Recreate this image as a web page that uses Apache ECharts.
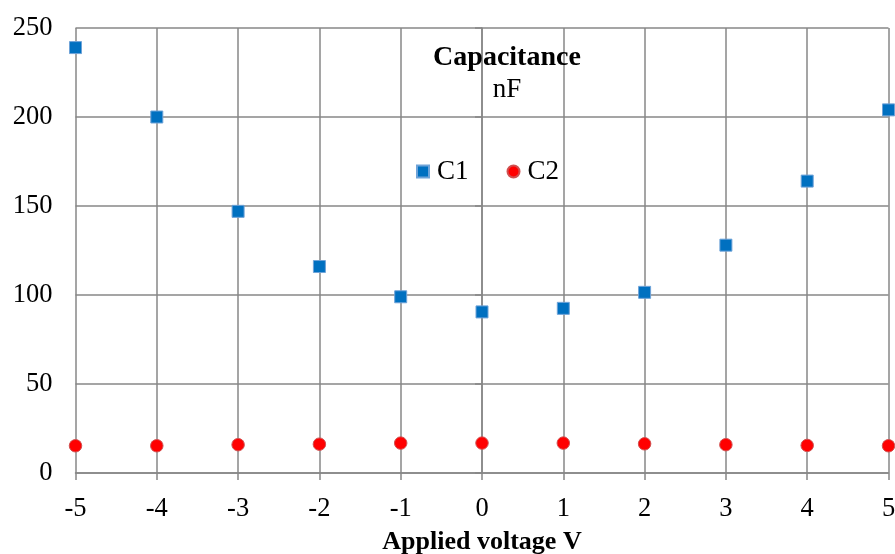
<!DOCTYPE html>
<html><head><meta charset="utf-8">
<script src="https://cdn.jsdelivr.net/npm/echarts@6/dist/echarts.min.js"></script>
<style>html,body{margin:0;padding:0;background:#fff}#c{width:895px;height:554px}</style>
</head><body><div id="c"></div>
<script>
const voltages = [-5,-4,-3,-2,-1,0,1,2,3,4,5];
const c1 = [239,200,147,116,99,90.5,92.5,101.5,128,164,204];
const c2 = [15.3,15.3,15.9,16.2,16.8,16.8,16.8,16.4,15.9,15.5,15.3];
const titleText = 'Capacitance';
const subText = 'nF';
const xName = 'Applied voltage V';
const font = '"Liberation Serif","Times New Roman",serif';
const chart = echarts.init(document.getElementById('c'));
chart.setOption({
  animation:false,
  title:{text:titleText, subtext:subText, left:507, top:44, textAlign:'center', itemGap:4, padding:0,
    textStyle:{fontFamily:font,fontSize:28,fontWeight:'bold',color:'#000'},
    subtextStyle:{fontFamily:font,fontSize:27,color:'#000'}},
  legend:{left:411, top:153, itemWidth:12, itemHeight:12, itemGap:38,
    textStyle:{fontFamily:font,fontSize:27,color:'#000',padding:[0,0,0,3]},
    data:[{name:'C1',icon:'rect'},{name:'C2',icon:'circle'}]},
  grid:{left:75.5,right:6.5,top:28,bottom:81,containLabel:false,outerBoundsMode:'none'},
  xAxis:{type:'value',min:-5,max:5,interval:1,name:xName,nameLocation:'middle',nameGap:56,
    nameTextStyle:{fontFamily:font,fontSize:26,fontWeight:'bold',color:'#000'},
    axisLine:{show:true,onZero:false,lineStyle:{color:'#878787',width:1.5}},
    axisTick:{show:true,length:7,lineStyle:{color:'#878787',width:1.5}},
    axisLabel:{fontFamily:font,fontSize:26.5,color:'#000',margin:23},
    splitLine:{show:true,lineStyle:{color:'#878787',width:1.5}}},
  yAxis:{type:'value',min:0,max:250,interval:50,
    axisLine:{show:true,lineStyle:{color:'#878787',width:1.5}},
    axisTick:{show:true,length:7,lineStyle:{color:'#878787',width:1.5}},
    axisLabel:{fontFamily:font,fontSize:26.5,color:'#000',margin:23},
    splitLine:{show:true,lineStyle:{color:'#878787',width:1.5}}},
  series:[
    {name:'C1',type:'scatter',symbol:'rect',symbolSize:12,
      itemStyle:{color:'#0070C0',borderColor:'#6fa3d8',borderWidth:1,opacity:1},
      data:voltages.map((v,i)=>[v,c1[i]])},
    {name:'C2',type:'scatter',symbol:'circle',symbolSize:12.5,
      itemStyle:{color:'#FF0000',borderColor:'#d05050',borderWidth:1,opacity:1},
      data:voltages.map((v,i)=>[v,c2[i]])}
  ]
});
</script></body></html>
